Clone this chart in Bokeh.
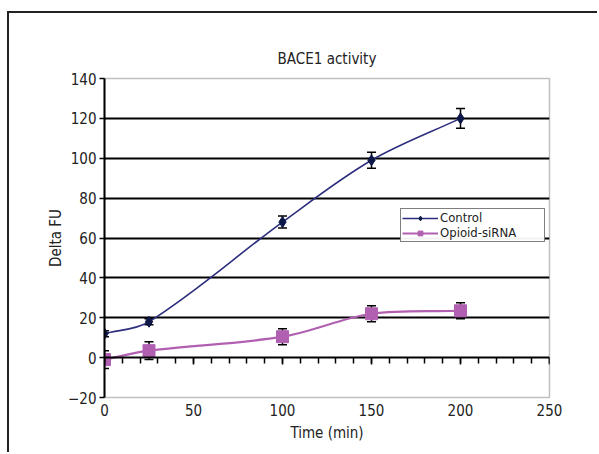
import math
from bokeh.plotting import figure
from bokeh.models import (LinearAxis, FixedTicker, Whisker, TeeHead, ColumnDataSource,
                          Legend, LegendItem, Range1d, Grid)
from bokeh.embed import file_html
from bokeh.resources import INLINE

# ---- data ----
time_min = [0, 25, 100, 150, 200]
control = [12, 18, 68, 99, 120]
control_err = [1.5, 1.5, 3, 4, 5]
opioid = [-1, 3.5, 10.5, 22, 23.5]
opioid_err = [4.5, 4.5, 4, 4, 4]
x_ticks = [0, 50, 100, 150, 200, 250]
y_ticks = [-20, 0, 20, 40, 60, 80, 100, 120, 140]
grid_ticks = [20, 40, 60, 80, 100, 120]

FONT = "'Liberation Sans Narrow', 'DejaVu Sans Condensed', sans-serif"
CTRL_LINE = "#2e2e7e"
CTRL_MARK = "#0e1848"
OPI = "#b160b1"
TXT = "#222222"

FRAME_W, FRAME_H = 443, 317
X0, X1, Y0, Y1 = 0, 250, -20, 140
SX = FRAME_W / (X1 - X0)
SY = FRAME_H / (Y1 - Y0)


def smooth(xs, ys):
    # chord-length scaled bezier smoothing (computed in screen space)
    n = len(xs)
    px = [x * SX for x in xs]
    py = [y * SY for y in ys]

    def tangent(i):
        a = max(i - 1, 0)
        b = min(i + 1, n - 1)
        dx, dy = px[b] - px[a], py[b] - py[a]
        d = math.hypot(dx, dy)
        return dx / d, dy / d

    out = dict(x0=[], y0=[], x1=[], y1=[], cx0=[], cy0=[], cx1=[], cy1=[])
    for i in range(n - 1):
        L = math.hypot(px[i + 1] - px[i], py[i + 1] - py[i]) / 3
        t0 = tangent(i)
        t1 = tangent(i + 1)
        out["x0"].append(xs[i]); out["y0"].append(ys[i])
        out["x1"].append(xs[i + 1]); out["y1"].append(ys[i + 1])
        out["cx0"].append((px[i] + t0[0] * L) / SX)
        out["cy0"].append((py[i] + t0[1] * L) / SY)
        out["cx1"].append((px[i + 1] - t1[0] * L) / SX)
        out["cy1"].append((py[i + 1] - t1[1] * L) / SY)
    return ColumnDataSource(out)


p = figure(width=590, height=441, output_backend="svg", toolbar_location=None,
           x_range=Range1d(X0, X1), y_range=Range1d(Y0, Y1),
           min_border_left=95, min_border_right=50, min_border_top=65,
           min_border_bottom=57, x_axis_type=None, y_axis_type=None)
p.margin = (11, 0, 0, 7)
p.background_fill_color = "white"
p.border_fill_color = "white"
p.outline_line_color = "#c0c0c0"
p.outline_line_width = 1.5

p.title.text = "BACE1 activity"
p.title.align = "center"
p.title.text_font = FONT
p.title.text_font_style = "normal"
p.title.text_font_size = "15px"
p.title.text_color = TXT
p.title.offset = 0
p.title.standoff = 22

# y axis
yax = LinearAxis(ticker=FixedTicker(ticks=y_ticks))
yax.axis_line_color = "black"
yax.axis_line_width = 2
yax.major_tick_out = 5
yax.major_tick_in = 0
yax.major_tick_line_width = 1.5
yax.minor_tick_line_color = None
yax.major_label_text_font = FONT
yax.major_label_text_font_size = "15px"
yax.major_label_text_color = TXT
yax.major_label_standoff = 3
yax.axis_label = "Delta FU"
yax.axis_label_text_font = FONT
yax.axis_label_text_font_style = "normal"
yax.axis_label_text_font_size = "15px"
yax.axis_label_text_color = TXT
yax.axis_label_standoff = 0
p.add_layout(yax, "left")

# x axis labels (at bottom)
xlab = LinearAxis(ticker=FixedTicker(ticks=x_ticks))
xlab.axis_line_color = None
xlab.major_tick_line_color = None
xlab.minor_tick_line_color = None
xlab.major_tick_out = 0
xlab.major_tick_in = 0
xlab.major_label_text_font = FONT
xlab.major_label_text_font_size = "15px"
xlab.major_label_text_color = TXT
xlab.major_label_standoff = 6
xlab.axis_label = "Time (min)"
xlab.axis_label_text_font = FONT
xlab.axis_label_text_font_style = "normal"
xlab.axis_label_text_font_size = "15px"
xlab.axis_label_text_color = TXT
xlab.axis_label_standoff = 5
p.add_layout(xlab, "below")

# grid lines
p.add_layout(Grid(dimension=1, ticker=FixedTicker(ticks=grid_ticks),
                  grid_line_color="black", grid_line_width=2))

# x axis line with ticks at y=0
xtick = LinearAxis(ticker=FixedTicker(ticks=x_ticks,
                                      minor_ticks=list(range(0, 251, 10))),
                   fixed_location=0)
xtick.axis_line_color = "black"
xtick.axis_line_width = 2
xtick.major_tick_out = 7
xtick.major_tick_in = 0
xtick.major_tick_line_width = 1.5
xtick.minor_tick_out = 6
xtick.minor_tick_in = 0
xtick.minor_tick_line_width = 1.5
xtick.minor_tick_line_color = "black"
xtick.major_label_text_color = None
xtick.major_label_text_font_size = "6px"
xtick.major_label_standoff = 0
p.add_layout(xtick, "below")

# Control
c_curve = p.bezier(x0="x0", y0="y0", x1="x1", y1="y1", cx0="cx0", cy0="cy0",
                   cx1="cx1", cy1="cy1", source=smooth(time_min, control),
                   line_color=CTRL_LINE, line_width=1.6)
c_src = ColumnDataSource(dict(x=time_min, y=control,
                              lo=[v - e for v, e in zip(control, control_err)],
                              hi=[v + e for v, e in zip(control, control_err)]))
p.add_layout(Whisker(source=c_src, base="x", lower="lo", upper="hi",
                     line_color="black", line_width=1.5,
                     upper_head=TeeHead(size=9, line_color="black", line_width=1.5),
                     lower_head=TeeHead(size=9, line_color="black", line_width=1.5)))
c_pts = p.scatter("x", "y", source=c_src, marker="diamond", size=11,
                  fill_color=CTRL_MARK, line_color=CTRL_MARK)

# Opioid-siRNA
o_curve = p.bezier(x0="x0", y0="y0", x1="x1", y1="y1", cx0="cx0", cy0="cy0",
                   cx1="cx1", cy1="cy1", source=smooth(time_min, opioid),
                   line_color=OPI, line_width=2.2)
o_src = ColumnDataSource(dict(x=time_min, y=opioid,
                              lo=[v - e for v, e in zip(opioid, opioid_err)],
                              hi=[v + e for v, e in zip(opioid, opioid_err)]))
p.add_layout(Whisker(source=o_src, base="x", lower="lo", upper="hi",
                     line_color="black", line_width=1.5,
                     upper_head=TeeHead(size=9, line_color="black", line_width=1.5),
                     lower_head=TeeHead(size=9, line_color="black", line_width=1.5)))
o_pts = p.scatter("x", "y", source=o_src, marker="square", size=12,
                  fill_color=OPI, line_color=OPI)

legend = Legend(items=[LegendItem(label="Control", renderers=[c_curve, c_pts]),
                       LegendItem(label="Opioid-siRNA", renderers=[o_curve, o_pts])],
                location=(296, 155))
legend.border_line_color = "black"
legend.border_line_width = 1.5
legend.background_fill_color = "white"
legend.label_text_font = FONT
legend.label_text_font_size = "13px"
legend.label_text_color = TXT
legend.label_height = 12
legend.glyph_height = 12
legend.glyph_width = 36
legend.label_standoff = 2
legend.spacing = 0
legend.padding = 1
legend.margin = 0
legend.label_width = 103
p.add_layout(legend)

p.styles = {"border-left": "2px solid #222", "border-top": "2px solid #222"}

with open("out.html", "w") as f:
    f.write(file_html(p, INLINE))
